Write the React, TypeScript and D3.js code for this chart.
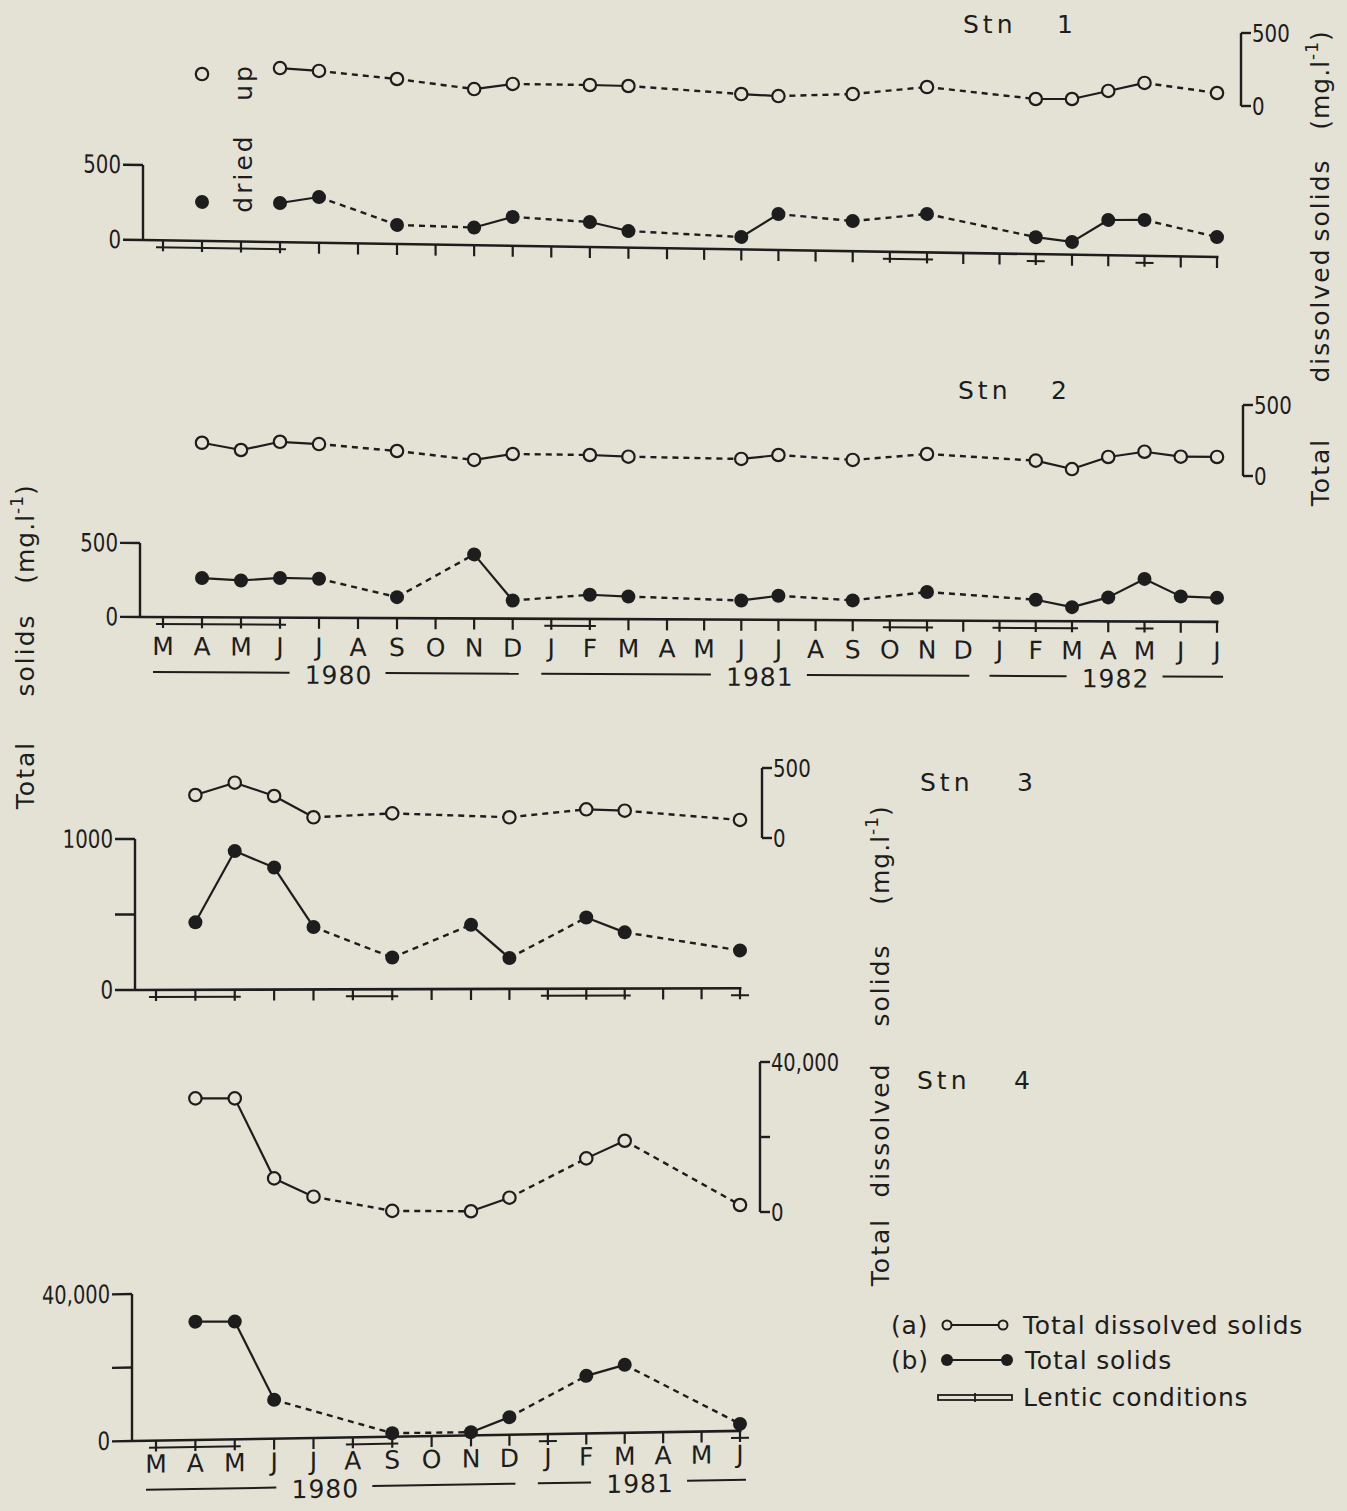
import React from 'react';
import * as d3 from 'd3';

const PAPER = '#e4e2d5';
const INK = '#1d1d1d';
const FONT = '"DejaVu Sans", "Noto Sans", sans-serif';
const FS = 25;

// Month initials, March 1980 – July 1982 (index 0 = March 1980)
const monthsLong = ['M', 'A', 'M', 'J', 'J', 'A', 'S', 'O', 'N', 'D', 'J', 'F', 'M', 'A', 'M', 'J', 'J', 'A', 'S', 'O', 'N', 'D', 'J', 'F', 'M', 'A', 'M', 'J', 'J'];
// March 1980 – June 1981
const monthsShort = monthsLong.slice(0, 16);

const yearsLong = [
  { label: '1980', from: 0, to: 9, at: 4.5 },
  { label: '1981', from: 10, to: 21, at: 15.5 },
  { label: '1982', from: 22, to: 28, at: 25.2 },
];
const yearsShort = [
  { label: '1980', from: 0, to: 9, at: 4.3 },
  { label: '1981', from: 10, to: 15, at: 12.4 },
];

// Axis ticks
const ticks500 = [0, 500];
const tickLabels500 = ['0', '500'];
const ticks1000 = [0, 500, 1000];
const tickLabels1000 = ['0', '', '1000'];
const ticks40k = [0, 20000, 40000];
const tickLabels40k = ['0', '', '40,000'];

// Station 1 (mg/l); May 1980 dried up
const stn1Months = [1, 3, 4, 6, 8, 9, 11, 12, 15, 16, 18, 20, 23, 24, 25, 26, 28];
const stn1TDS = [219, 260, 240, 185, 116, 151, 144, 137, 82, 68, 82, 130, 48, 48, 103, 158, 89];
const stn1TS = [260, 261, 305, 127, 118, 193, 167, 111, 83, 240, 201, 256, 113, 85, 235, 239, 133];
const stn1DriedUp = 2;
const stn1Lentic: [number, number][] = [[0, 3], [19, 20], [23, 23], [26, 26]];

// Station 2
const stn2Months = [1, 2, 3, 4, 6, 8, 9, 11, 12, 15, 16, 18, 20, 23, 24, 25, 26, 27, 28];
const stn2TDS = [234, 183, 241, 225, 176, 113, 155, 148, 136, 120, 148, 113, 155, 108, 49, 134, 171, 136, 134];
const stn2TS = [265, 250, 268, 264, 142, 433, 123, 164, 153, 130, 163, 134, 193, 144, 95, 162, 288, 171, 162];
const stn2Lentic: [number, number][] = [[0, 3], [10, 11], [19, 20], [22, 24], [26, 26]];

// Station 3
const stn3TDSMonths = [1, 2, 3, 4, 6, 9, 11, 12, 15];
const stn3TDS = [307, 395, 300, 148, 176, 148, 205, 195, 129];
const stn3TSMonths = [1, 2, 3, 4, 6, 8, 9, 11, 12, 15];
const stn3TS = [447, 918, 808, 414, 210, 425, 204, 471, 372, 250];
const stn3Lentic: [number, number][] = [[0, 2], [5, 6], [10, 12], [15, 15]];

// Station 4
const stn4TDSMonths = [1, 2, 3, 4, 6, 8, 9, 11, 12, 15];
const stn4TDS = [30300, 30300, 8960, 4080, 300, 200, 3810, 14300, 19000, 1870];
const stn4TSMonths = [1, 2, 3, 6, 8, 9, 11, 12, 15];
const stn4TS = [32190, 32030, 10560, 950, 870, 4790, 15670, 18500, 1900];
const stn4Lentic: [number, number][] = [[0, 2], [5, 6], [10, 10], [15, 15]];

type Sc = d3.ScaleLinear<number, number>;

// Month scales (hand-drawn spacing is slightly uneven)
const xLong: Sc = d3.scaleLinear().domain([0, 6, 13, 20, 28]).range([163, 397, 667, 927, 1217]);
const xShort: Sc = d3.scaleLinear().domain([0, 8, 15]).range([156, 471, 740]);

// Vertical scales
const y1Top: Sc = d3.scaleLinear().domain([0, 500]).range([106, 33]);
const y1Bot: Sc = d3.scaleLinear().domain([0, 500]).range([240, 165]);
const y2Top: Sc = d3.scaleLinear().domain([0, 500]).range([476, 405]);
const y2Bot: Sc = d3.scaleLinear().domain([0, 500]).range([617, 543]);
const y3Top: Sc = d3.scaleLinear().domain([0, 500]).range([838, 768]);
const y3Bot: Sc = d3.scaleLinear().domain([0, 1000]).range([990, 839]);
const y4Top: Sc = d3.scaleLinear().domain([0, 40000]).range([1212, 1062]);
const y4Bot: Sc = d3.scaleLinear().domain([0, 40000]).range([1441, 1294]);

function skew(ox: number, oy: number, slope: number) {
  const deg = (Math.atan(slope) * 180) / Math.PI;
  return `translate(${ox},${oy}) skewY(${deg}) translate(${-ox},${-oy})`;
}

const lineGen = d3.line<[number, number]>();

function Series({ months, values, x, y, filled, breakAt }: {
  months: number[]; values: number[]; x: Sc; y: Sc; filled: boolean; breakAt?: number;
}) {
  const pts = months.map((m, i) => [x(m), y(values[i])] as [number, number]);
  const segs: React.ReactNode[] = [];
  for (let i = 1; i < pts.length; i++) {
    if (breakAt !== undefined && months[i - 1] < breakAt && months[i] > breakAt) continue;
    const solid = months[i] - months[i - 1] === 1;
    segs.push(
      <path key={i} d={lineGen([pts[i - 1], pts[i]]) || ''} fill="none" stroke={INK}
        strokeWidth={solid ? 2.2 : 2.4} strokeDasharray={solid ? undefined : '6 5'} />
    );
  }
  return (
    <g>
      {segs}
      {pts.map((p, i) =>
        filled ? (
          <circle key={'c' + i} cx={p[0]} cy={p[1]} r={7} fill={INK} />
        ) : (
          <circle key={'c' + i} cx={p[0]} cy={p[1]} r={6.2} fill={PAPER} stroke={INK} strokeWidth={2.2} />
        )
      )}
    </g>
  );
}

function numWidth(s: string) {
  let w = 0;
  for (const ch of s) w += ch === ',' ? 5 : 12.6;
  return w;
}

function NumLabel({ x, y, text, anchor }: { x: number; y: number; text: string; anchor: 'start' | 'end' }) {
  return (
    <text x={x} y={y} textAnchor={anchor} dominantBaseline="central" fontSize={25}
      textLength={numWidth(text)} lengthAdjust="spacingAndGlyphs">{text}</text>
  );
}

function LeftAxis({ y, x0, ticks, labels }: { y: Sc; x0: number; ticks: number[]; labels: string[] }) {
  const top = y(ticks[ticks.length - 1]);
  return (
    <g>
      <line x1={x0} x2={x0} y1={top} y2={y(0)} stroke={INK} strokeWidth={2.4} />
      {ticks.map((t, i) => (
        <g key={i}>
          <line x1={x0 - 20} x2={x0} y1={y(t)} y2={y(t)} stroke={INK} strokeWidth={2.4} />
          {labels[i] && <NumLabel x={x0 - 22} y={y(t)} text={labels[i]} anchor="end" />}
        </g>
      ))}
    </g>
  );
}

function RightBracket({ y, bx, ticks, labels }: { y: Sc; bx: number; ticks: number[]; labels: string[] }) {
  const top = y(ticks[ticks.length - 1]);
  return (
    <g>
      <line x1={bx} x2={bx} y1={top} y2={y(0)} stroke={INK} strokeWidth={2.4} />
      {ticks.map((t, i) => (
        <g key={i}>
          <line x1={bx} x2={bx + 10} y1={y(t)} y2={y(t)} stroke={INK} strokeWidth={2.4} />
          {labels[i] && <NumLabel x={bx + 11} y={y(t)} text={labels[i]} anchor="start" />}
        </g>
      ))}
    </g>
  );
}

function MonthAxis({ x, last, x0, y0, lentic, labels, labelY, years, yearY }: {
  x: Sc; last: number; x0: number; y0: number; lentic: [number, number][];
  labels?: string[]; labelY?: number;
  years?: { label: string; from: number; to: number; at: number }[]; yearY?: number;
}) {
  const idx = d3.range(0, last + 1);
  return (
    <g>
      <line x1={x0} x2={x(last) + 1.5} y1={y0} y2={y0} stroke={INK} strokeWidth={2.6} />
      {idx.map((i) => (
        <line key={i} x1={x(i)} x2={x(i)} y1={y0} y2={y0 + 11} stroke={INK} strokeWidth={2.2} />
      ))}
      {lentic.map(([a, b], k) => (
        <line key={'l' + k} x1={x(a) - (a === b ? 9 : 7)} x2={x(b) + (a === b ? 9 : 6)}
          y1={y0 + 7} y2={y0 + 7} stroke={INK} strokeWidth={2} />
      ))}
      {labels && labels.map((t, i) => (
        <text key={'m' + i} x={x(i)} y={labelY} textAnchor="middle">{t}</text>
      ))}
      {years && yearY !== undefined && years.map((yr) => {
        const c = x(yr.at);
        return (
          <g key={yr.label}>
            <line x1={x(yr.from) - 10} x2={c - 49} y1={yearY} y2={yearY} stroke={INK} strokeWidth={2} />
            <line x1={c + 47} x2={x(yr.to) + 6} y1={yearY} y2={yearY} stroke={INK} strokeWidth={2} />
            <text x={c} y={yearY} dy={11} textAnchor="middle" letterSpacing={1}>{yr.label}</text>
          </g>
        );
      })}
    </g>
  );
}

function UnitWord({ cy, x }: { cy: number; x: number }) {
  return (
    <text transform={`translate(${x},${cy}) rotate(-90)`} textAnchor="middle" dominantBaseline="central" letterSpacing={1}>
      (mg.l<tspan dy={-8} fontSize={17}>-1</tspan><tspan dy={8}>)</tspan>
    </text>
  );
}

function VTitle({ x, words, unitAt }: { x: number; words: [string, number][]; unitAt: number }) {
  return (
    <g>
      {words.map(([w, cy]) => (
        <text key={w} transform={`translate(${x},${cy}) rotate(-90)`} textAnchor="middle"
          dominantBaseline="central" letterSpacing={2}>{w}</text>
      ))}
      <UnitWord x={x} cy={unitAt} />
    </g>
  );
}

function StnTitle({ x, numX, y, n }: { x: number; numX: number; y: number; n: string }) {
  return (
    <g>
      <text x={x} y={y} letterSpacing={4}>Stn</text>
      <text x={numX} y={y}>{n}</text>
    </g>
  );
}

export default function App() {
  return (
    <svg width={1347} height={1511} viewBox="0 0 1347 1511"
      style={{ position: 'absolute', left: 0, top: 0, display: 'block' }}
      fontFamily={FONT} fontSize={FS} fill={INK}>
      <rect x={0} y={0} width={1347} height={1511} fill={PAPER} />

      {/* Station 1 */}
      <StnTitle x={963} numX={1057} y={33} n="1" />
      <RightBracket y={y1Top} bx={1241} ticks={ticks500} labels={tickLabels500} />
      <Series months={stn1Months} values={stn1TDS} x={xLong} y={y1Top} filled={false} breakAt={stn1DriedUp} />
      <g transform={skew(143, 240, 0.0158)}>
        <LeftAxis y={y1Bot} x0={143} ticks={ticks500} labels={tickLabels500} />
        <MonthAxis x={xLong} last={28} x0={143} y0={240} lentic={stn1Lentic} />
        <Series months={stn1Months} values={stn1TS} x={xLong} y={y1Bot} filled breakAt={stn1DriedUp} />
      </g>
      <text transform={`translate(${xLong(stn1DriedUp) + 2},173) rotate(-90)`} textAnchor="middle"
        dominantBaseline="central" letterSpacing={3}>dried</text>
      <text transform={`translate(${xLong(stn1DriedUp) + 2},82) rotate(-90)`} textAnchor="middle"
        dominantBaseline="central" letterSpacing={3}>up</text>

      {/* Station 2 */}
      <StnTitle x={958} numX={1051} y={399} n="2" />
      <RightBracket y={y2Top} bx={1243} ticks={ticks500} labels={tickLabels500} />
      <Series months={stn2Months} values={stn2TDS} x={xLong} y={y2Top} filled={false} />
      <g transform={skew(140, 617, 0.0045)}>
        <LeftAxis y={y2Bot} x0={140} ticks={ticks500} labels={tickLabels500} />
        <MonthAxis x={xLong} last={28} x0={140} y0={617} lentic={stn2Lentic}
          labels={monthsLong} labelY={655} years={yearsLong} yearY={672} />
        <Series months={stn2Months} values={stn2TS} x={xLong} y={y2Bot} filled />
      </g>

      {/* Station 3 */}
      <StnTitle x={920} numX={1017} y={791} n="3" />
      <RightBracket y={y3Top} bx={762} ticks={ticks500} labels={tickLabels500} />
      <Series months={stn3TDSMonths} values={stn3TDS} x={xShort} y={y3Top} filled={false} />
      <g transform={skew(135, 990, -0.003)}>
        <LeftAxis y={y3Bot} x0={135} ticks={ticks1000} labels={tickLabels1000} />
        <MonthAxis x={xShort} last={15} x0={135} y0={990} lentic={stn3Lentic} />
        <Series months={stn3TSMonths} values={stn3TS} x={xShort} y={y3Bot} filled />
      </g>

      {/* Station 4 */}
      <StnTitle x={917} numX={1014} y={1089} n="4" />
      <RightBracket y={y4Top} bx={760} ticks={ticks40k} labels={tickLabels40k} />
      <Series months={stn4TDSMonths} values={stn4TDS} x={xShort} y={y4Top} filled={false} />
      <g transform={skew(132, 1441, -0.0166)}>
        <LeftAxis y={y4Bot} x0={132} ticks={ticks40k} labels={tickLabels40k} />
        <MonthAxis x={xShort} last={15} x0={132} y0={1441} lentic={stn4Lentic}
          labels={monthsShort} labelY={1473} years={yearsShort} yearY={1490} />
        <Series months={stn4TSMonths} values={stn4TS} x={xShort} y={y4Bot} filled />
      </g>

      {/* Axis titles */}
      <VTitle x={25} words={[['Total', 775], ['solids', 655]]} unitAt={534} />
      <VTitle x={1320} words={[['Total', 472], ['dissolved', 315], ['solids', 200]]} unitAt={80} />
      <VTitle x={880} words={[['Total', 1252], ['dissolved', 1130], ['solids', 985]]} unitAt={855} />

      {/* Legend */}
      <g letterSpacing={0.8}>
        <text x={891} y={1334}>(a)</text>
        <line x1={947} x2={1003} y1={1325} y2={1325} stroke={INK} strokeWidth={2.2} />
        <circle cx={947} cy={1325} r={4.5} fill={PAPER} stroke={INK} strokeWidth={2} />
        <circle cx={1003} cy={1325} r={4.5} fill={PAPER} stroke={INK} strokeWidth={2} />
        <text x={1023} y={1334}>Total dissolved solids</text>

        <text x={891} y={1369}>(b)</text>
        <line x1={947} x2={1007} y1={1360} y2={1360} stroke={INK} strokeWidth={2.2} />
        <circle cx={947} cy={1360} r={6} fill={INK} />
        <circle cx={1007} cy={1360} r={6} fill={INK} />
        <text x={1025} y={1369}>Total solids</text>

        <rect x={938} y={1395} width={74} height={5} fill="none" stroke={INK} strokeWidth={1.8} />
        <line x1={975} x2={975} y1={1393} y2={1402} stroke={INK} strokeWidth={1.8} />
        <text x={1023} y={1406}>Lentic conditions</text>
      </g>
    </svg>
  );
}
